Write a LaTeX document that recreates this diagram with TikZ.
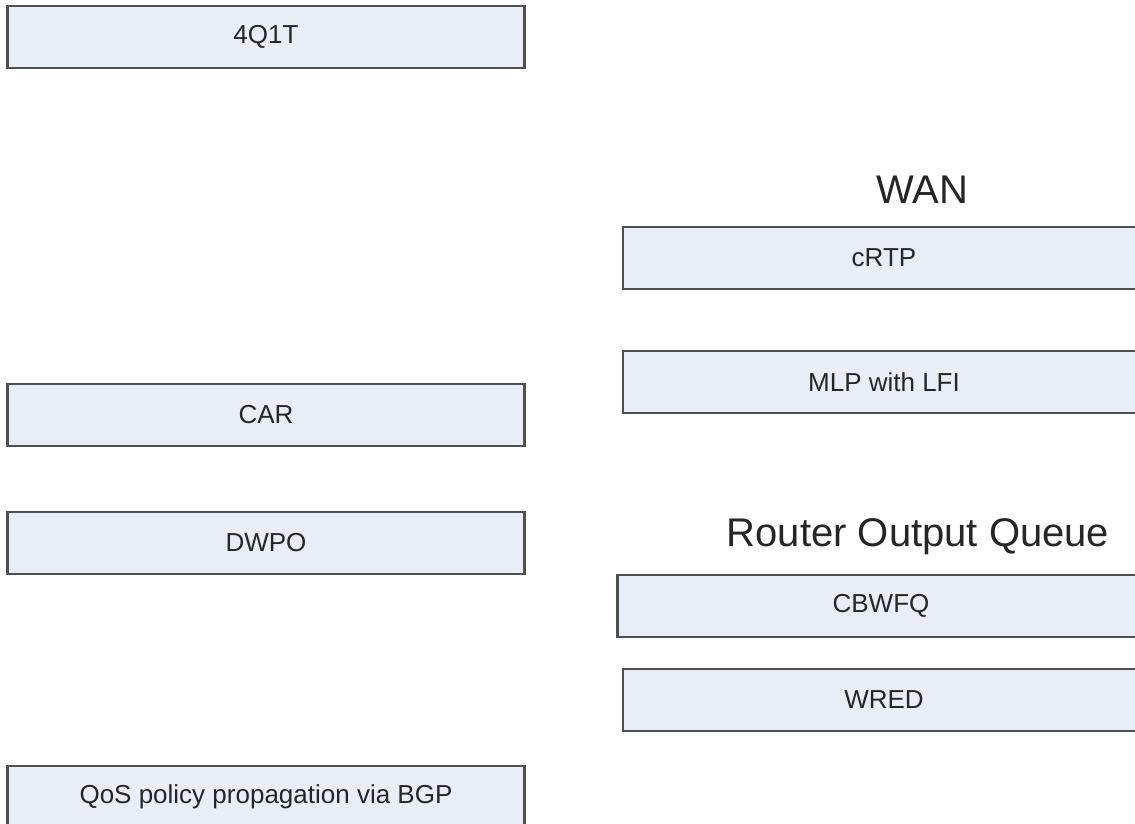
\documentclass[tikz,border=0pt]{standalone}
\usepackage{fontspec}
\setmainfont{Liberation Sans}
\usepackage{tikz}
\usetikzlibrary{positioning}
\definecolor{boxfill}{HTML}{E9EDF5}
\definecolor{boxline}{HTML}{4F4F4F}

\begin{document}
\begin{tikzpicture}[x=1pt,y=-1pt,node distance=65pt,
    qosbox/.style={draw=boxline,line width=2.4pt,fill=boxfill,minimum width=517pt,minimum height=62pt,
      inner sep=0pt,font=\fontsize{26}{28}\selectfont,text=black!85},
    title/.style={font=\fontsize{40}{42}\selectfont,text=black!85}]
    \useasboundingbox[fill=white] (0,0) rectangle (1135,824);

    \node[qosbox] (Q)  at (266,37)  {4Q1T};
    \node[qosbox] (CA) at (266,415) {CAR};
    \node[qosbox] (DW) at (266,543) {DWPO};
    \node[qosbox] (BG) at (266,797) {QoS policy propagation via BGP};

    \node[title]  (W)  at (922,190) {WAN};
    \node[qosbox,minimum width=522pt] (CR) at (884,258) {cRTP};
    \node[qosbox,minimum width=522pt] (ML) at (884,382) {MLP with LFI};

    \node[title]  (R)  at (918,537) {Router Output Queue};
    \node[qosbox,minimum width=527pt] (CB) at (881,606) {CBWFQ};
    \node[qosbox,minimum width=522pt] (WR) at (884,700) {WRED};
\end{tikzpicture}
\end{document}
